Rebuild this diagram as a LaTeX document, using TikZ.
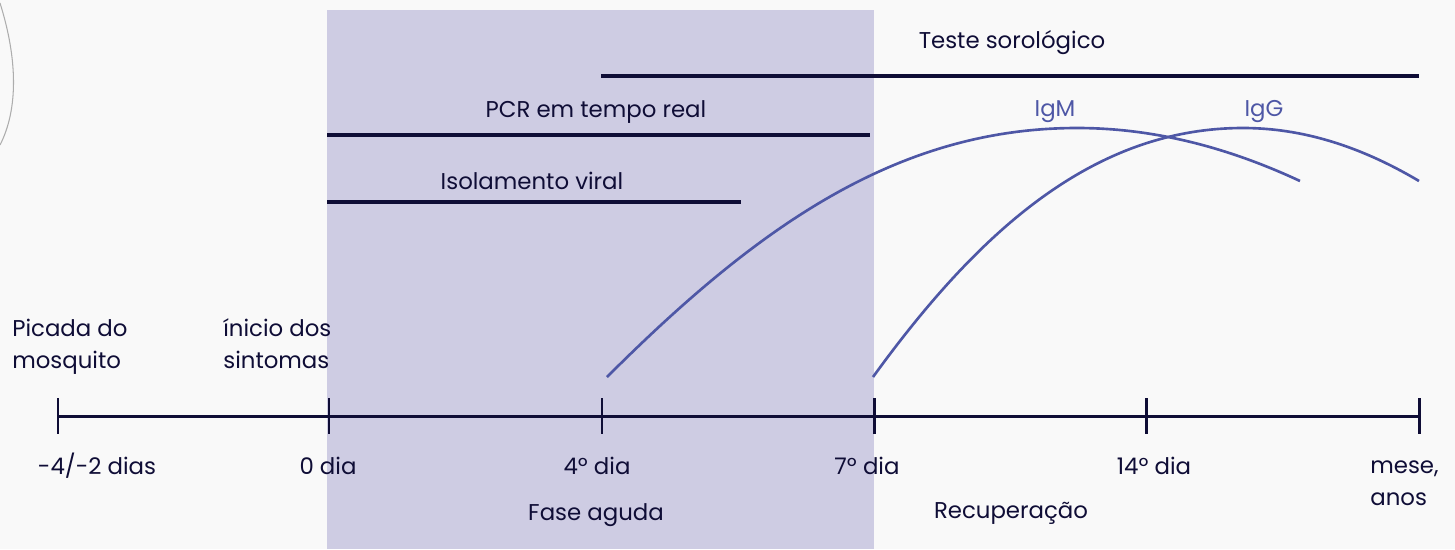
\documentclass[tikz,border=0pt]{standalone}
\usepackage{fontspec}
\setmainfont{Poppins}
\usetikzlibrary{positioning}

\definecolor{fundo}{HTML}{F9F9F9}
\definecolor{fase}{HTML}{CECCE3}
\definecolor{escuro}{HTML}{0F0D36}
\definecolor{anticorpo}{HTML}{4E57A6}
\definecolor{contorno}{HTML}{ADADAD}

\tikzset{
  rotulo/.style={font=\fontsize{13}{18}\selectfont, text=escuro, inner sep=0pt},
  igrotulo/.style={rotulo, text=anticorpo},
  barra/.style={escuro, line width=1.9pt},
  eixo/.style={escuro, line width=1.7pt},
  curva/.style={anticorpo, line width=1.5pt},
}

\begin{document}
\begin{tikzpicture}[x=0.02cm, y=-0.02cm]
        \fill[fundo] (0,0) rectangle (1455,549);
        \useasboundingbox (0,0) rectangle (1455,549);
        \fill[fase] (327,10) rectangle (874,549);
        \draw[contorno, line width=0.6pt] (0,3) .. controls (18,60) and (18,110) .. (0,145);

        % eixo do tempo
        \foreach \x [count=\i from 0] in {58,329,602,874,1146,1419}
            \coordinate (t\i) at (\x,416);
        \draw[eixo] (t0) -- (t5);
        \foreach \i in {0,...,5}
            \draw[eixo] (t\i) ++(0,-18) -- ++(0,36);

        \node[rotulo, anchor=base] (d0) at (97,474) {-4/-2 dias};
        \node[rotulo, anchor=base] (d1) at (328,474) {0 dia};
        \node[rotulo, anchor=base] (d2) at (597,474) {4º dia};
        \node[rotulo, anchor=base] (d3) at (867,474) {7º dia};
        \node[rotulo, anchor=base] (d4) at (1154,474) {14º dia};
        \node[rotulo, anchor=base west, align=left] (d5) at (1370,505) {mese,\\anos};
        \node[rotulo, anchor=base west, align=left] (picada) at (12,368) {Picada do\\mosquito};
        \node[rotulo, anchor=base west, align=left] (inicio) at (223,368) {ínicio dos\\sintomas};
        \node[rotulo, anchor=base] (aguda) at (596,520) {Fase aguda};
        \node[rotulo, anchor=base] (recup) at (1011,518) {Recuperação};

        % janelas dos testes
        \coordinate (sorA) at (601,76);
        \coordinate (sorB) at (1419,76);
        \coordinate (pcrA) at (327,135);
        \coordinate (pcrB) at (870,135);
        \coordinate (isoA) at (327,202);
        \coordinate (isoB) at (741,202);
        \draw[barra] (sorA) -- (sorB);
        \draw[barra] (pcrA) -- (pcrB);
        \draw[barra] (isoA) -- (isoB);
        \node[rotulo, anchor=base] (sor) at (1012,48) {Teste sorológico};
        \node[rotulo, anchor=base] (pcr) at (596,117) {PCR em tempo real};
        \node[rotulo, anchor=base] (iso) at (532,189) {Isolamento viral};

        % anticorpos
        \coordinate (igmA) at (607,377);
        \coordinate (igmP) at (1077,128);
        \coordinate (igmB) at (1300,181);
        \coordinate (iggA) at (873,377);
        \coordinate (iggP) at (1243,128);
        \coordinate (iggB) at (1419,181);
        \draw[curva] (igmA) .. controls (757,227) and (897,128) .. (igmP)
            .. controls (1151,128) and (1225,146) .. (igmB);
        \draw[curva] (iggA) .. controls (978,232) and (1093,128) .. (iggP)
            .. controls (1302,128) and (1360,146) .. (iggB);
        \node[igrotulo, anchor=base] (igm) at (1055,116) {IgM};
        \node[igrotulo, anchor=base] (igg) at (1264,116) {IgG};
    \end{tikzpicture}
\end{document}
